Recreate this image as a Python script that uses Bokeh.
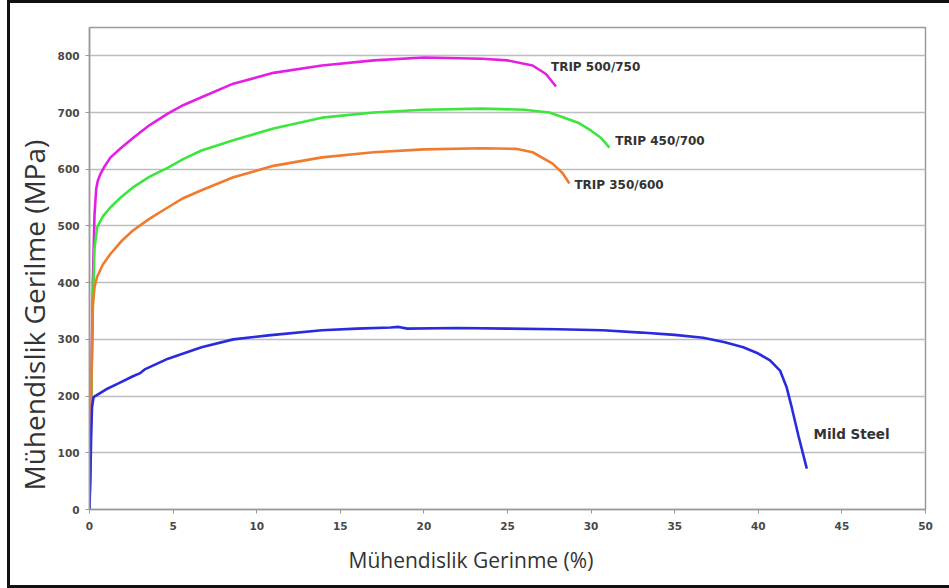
from bokeh.plotting import figure
from bokeh.models import Range1d, FixedTicker, Label, Title
from bokeh.embed import file_html
from bokeh.resources import INLINE

# ---- data ----
strain_500 = [0, 0.1, 0.2, 0.3, 0.4, 0.5, 0.66, 0.9, 1.26, 1.9, 2.64, 3.6, 4.68, 5.6, 6.7, 8.6, 11, 13.9, 17, 20,
              23.5, 25, 26.5, 27.3, 27.9]
stress_500 = [0, 200, 400, 520, 565, 580, 592, 605, 621, 638, 656, 678, 698, 713, 727, 751, 770, 783, 792, 797,
              795, 792, 783, 768, 746]

strain_450 = [0, 0.1, 0.2, 0.3, 0.45, 0.8, 1.26, 1.9, 2.6, 3.6, 4.7, 5.6, 6.7, 8.6, 11, 13.9, 17, 20, 23.5, 26,
              27.5, 28.4, 29.3, 30, 30.6, 31.1]
stress_450 = [0, 180, 360, 460, 497, 517, 533, 551, 568, 587, 603, 618, 633, 651, 672, 691, 700, 705, 707, 705,
              700, 691, 681, 668, 655, 638]

strain_350 = [0, 0.1, 0.2, 0.3, 0.45, 0.8, 1.26, 1.9, 2.6, 3.6, 4.7, 5.6, 6.7, 8.6, 11, 13.9, 17, 20, 23.5, 25.5,
              26.5, 27.7, 28.3, 28.7]
stress_350 = [0, 200, 360, 392, 410, 432, 451, 473, 492, 513, 533, 549, 563, 586, 606, 621, 630, 635, 637, 636,
              630, 610, 593, 575]

strain_mild = [0, 0.05, 0.1, 0.15, 0.24, 1.0, 1.7, 2.6, 3.0, 3.3, 4.7, 6.7, 8.6, 10.7, 13.9, 16, 18, 18.5, 19,
               22, 25, 28, 30.7, 33, 35, 36.7, 38, 39.1, 40, 40.7, 41.3, 41.7, 42.0, 42.4, 42.9]
stress_mild = [0, 60, 130, 180, 198, 212, 222, 235, 240, 247, 266, 286, 300, 307, 316, 319, 321, 322, 319,
               320, 319, 318, 316, 312, 308, 303, 295, 286, 275, 263, 245, 215, 180, 130, 72]

series_names = ["TRIP 500/750", "TRIP 450/700", "TRIP 350/600", "Mild Steel"]
x_ticks = [0, 5, 10, 15, 20, 25, 30, 35, 40, 45, 50]
y_ticks = [0, 100, 200, 300, 400, 500, 600, 700, 800]
x_title = "Mühendislik Gerinme (%)"
y_title = "Mühendislik Gerilme (MPa)"

# ---- figure (canvas placed at page x=10, y=3 because of the frame border) ----
p = figure(width=939, height=582, output_backend="svg", toolbar_location=None,
           x_range=Range1d(0, 50), y_range=Range1d(0, 850),
           min_border_left=79, min_border_right=27, min_border_top=24, min_border_bottom=82)
p.styles = {"box-sizing": "content-box",
            "border-top": "3px solid #111111", "border-left": "3px solid #111111",
            "border-bottom": "3px solid #111111", "margin-left": "7px"}
p.background_fill_color = "white"
p.border_fill_color = "white"
p.outline_line_color = "#9a9a9a"
p.outline_line_width = 1.5

p.xaxis.ticker = FixedTicker(ticks=x_ticks)
p.yaxis.ticker = FixedTicker(ticks=y_ticks)
for ax in (p.xaxis, p.yaxis):
    ax.axis_line_color = "#9a9a9a"
    ax.axis_line_width = 1.5
    ax.major_tick_line_color = "#9a9a9a"
    ax.major_tick_in = 0
    ax.major_tick_out = 4
    ax.minor_tick_line_color = None
    ax.major_label_text_font = "DejaVu Sans"
    ax.major_label_text_font_style = "bold"
    ax.major_label_text_font_size = "10.5px"
    ax.major_label_text_color = "#484848"
p.xaxis.major_label_standoff = 8
p.yaxis.major_label_standoff = 6

p.xgrid.grid_line_color = None
p.ygrid.grid_line_color = "#bdbdbd"
p.ygrid.grid_line_width = 1.5

p.line(strain_500, stress_500, line_color="#e41fe4", line_width=2.6)
p.line(strain_450, stress_450, line_color="#3ce63c", line_width=2.6)
p.line(strain_350, stress_350, line_color="#f07a2e", line_width=2.6)
p.line(strain_mild, stress_mild, line_color="#2a2ade", line_width=2.6)

# series labels
label_pos = [(27.6, 780), (31.45, 649), (29.0, 573), (43.3, 134)]
label_size = ["12px", "12px", "12px", "13.5px"]
for name, (lx, ly), fs in zip(series_names, label_pos, label_size):
    p.add_layout(Label(x=lx, y=ly, text=name, text_font="DejaVu Sans", text_font_style="bold",
                       text_font_size=fs, text_color="#333333", text_baseline="middle",
                       text_align="left"))

# axis titles
p.add_layout(Title(text=x_title, align="left", offset=259, standoff=22,
                   text_font="Open Sans", text_font_size="21px", text_font_style="normal",
                   text_color="#333333"), "below")
p.add_layout(Title(text=y_title, align="left", offset=19, standoff=3,
                   text_font="Open Sans", text_font_size="28px", text_font_style="normal",
                   text_color="#333333"), "left")

open("out.html", "w").write(file_html(p, INLINE))
